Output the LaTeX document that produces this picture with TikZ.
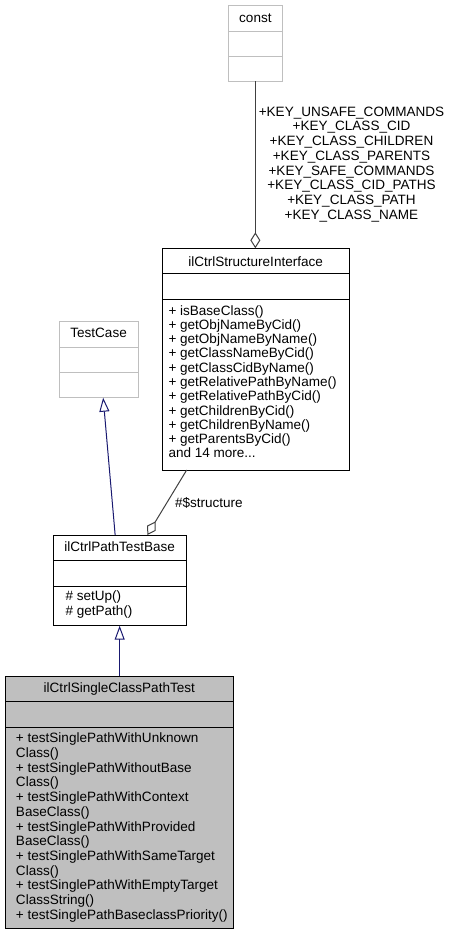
\documentclass[tikz,border=0pt]{standalone}
\usepackage{fontspec}
\setmainfont{Liberation Sans}
\usetikzlibrary{arrows.meta,fit,calc}
\definecolor{boxgray}{HTML}{BFBFBF}
\definecolor{edgegray}{HTML}{404040}
\definecolor{navyblue}{HTML}{191970}
\begin{document}
\begin{tikzpicture}[x=0.75pt,y=-0.75pt,
  every node/.style={font=\fontsize{10.15}{11}\selectfont, inner sep=0pt, outer sep=0pt},
  blackbox/.style={draw=black, line width=0.75pt, inner sep=0pt},
  lightbox/.style={draw=boxgray, line width=0.75pt, inner sep=0pt},
  divblack/.style={draw=black, line width=0.75pt},
  divlight/.style={draw=boxgray, line width=0.75pt},
  txt/.style={anchor=base west},
  ctr/.style={anchor=base},
  inherit/.style={draw=navyblue, line width=0.75pt, {Triangle[open, length=10.5pt, width=7.5pt]}-},
  aggreg/.style={draw=edgegray, line width=0.75pt, -{Diamond[open, length=12pt, width=7.5pt]}}]
\useasboundingbox (0,0) rectangle (451,935);

% const
\node[lightbox, fit={(228,5) (282.7,81)}] (const) {};
\draw[divlight] (228,31.7) -- (282.7,31.7);
\draw[divlight] (228,56.7) -- (282.7,56.7);
\node[ctr] (constt) at (255.4,22.8) {const};

% ilCtrlStructureInterface
\node[blackbox, fit={(162.3,248.3) (349,470)}] (si) {};
\draw[divblack] (162.3,273.3) -- (349,273.3);
\draw[divblack] (162.3,299.3) -- (349,299.3);
\node[ctr] (sit) at (255.6,266.5) {ilCtrlStructureInterface};
\foreach \t [count=\i from 0] in {+ isBaseClass(),+ getObjNameByCid(),+ getObjNameByName(),+ getClassNameByCid(),+ getClassCidByName(),+ getRelativePathByName(),+ getRelativePathByCid(),+ getChildrenByCid(),+ getChildrenByName(),+ getParentsByCid()}
  \node[txt] (sim\i) at (168.5,{315.2+14.26*\i}) {\t};
\node[txt] (simore) at (168.5,{315.2+14.26*10}) {and 14 more...};

% TestCase
\node[lightbox, fit={(59,321.7) (138.3,397.7)}] (tc) {};
\draw[divlight] (59,347.3) -- (138.3,347.3);
\draw[divlight] (59,372.7) -- (138.3,372.7);
\node[ctr] (tct) at (98.6,337.8) {TestCase};

% ilCtrlPathTestBase
\node[blackbox, fit={(53.3,535) (186,625.7)}] (pb) {};
\draw[divblack] (53.3,560.7) -- (186,560.7);
\draw[divblack] (53.3,586) -- (186,586);
\node[ctr] (pbt) at (119.6,551.2) {ilCtrlPathTestBase};
\node[txt] (pbm0) at (65.5,600.5) {\# setUp()};
\node[txt] (pbm1) at (65.5,615.2) {\# getPath()};

% ilCtrlSingleClassPathTest
\node[blackbox, fill=boxgray, fit={(5,676) (233.7,928.3)}] (sc) {};
\draw[divblack] (5,701.7) -- (233.7,701.7);
\draw[divblack] (5,727.3) -- (233.7,727.3);
\node[ctr] (sct) at (119.3,692.8) {ilCtrlSingleClassPathTest};
\foreach \t [count=\i from 0] in {+ testSinglePathWithUnknown,Class(),+ testSinglePathWithoutBase,Class(),+ testSinglePathWithContext,BaseClass(),+ testSinglePathWithProvided,BaseClass(),+ testSinglePathWithSameTarget,Class(),+ testSinglePathWithEmptyTarget,ClassString(),+ testSinglePathBaseclassPriority()}
  \node[txt] (scm\i) at (16,{742.8+14.7*\i}) {\t};

% connectors
\draw[aggreg] (const.south) -- (const.south |- si.north);
\foreach \t [count=\i from 0] in {+KEY\_UNSAFE\_COMMANDS,+KEY\_CLASS\_CID,+KEY\_CLASS\_CHILDREN,+KEY\_CLASS\_PARENTS,+KEY\_SAFE\_COMMANDS,+KEY\_CLASS\_CID\_PATHS,+KEY\_CLASS\_PATH,+KEY\_CLASS\_NAME}
  \node[ctr] (key\i) at (351.5,{116.2+14.7*\i}) {\t};

\draw[inherit] ($(tc.south)+(4.5,0)$) -- ($(pb.north)+(-4.5,0)$);
\draw[aggreg] ($(si.south west)+(24.4,0)$) -- ($(pb.north east)+(-38.7,0)$);
\node[txt] (structlbl) at (175,507.7) {\#\$structure};
\draw[inherit] (pb.south) -- (pb.south |- sc.north);
\end{tikzpicture}
\end{document}
